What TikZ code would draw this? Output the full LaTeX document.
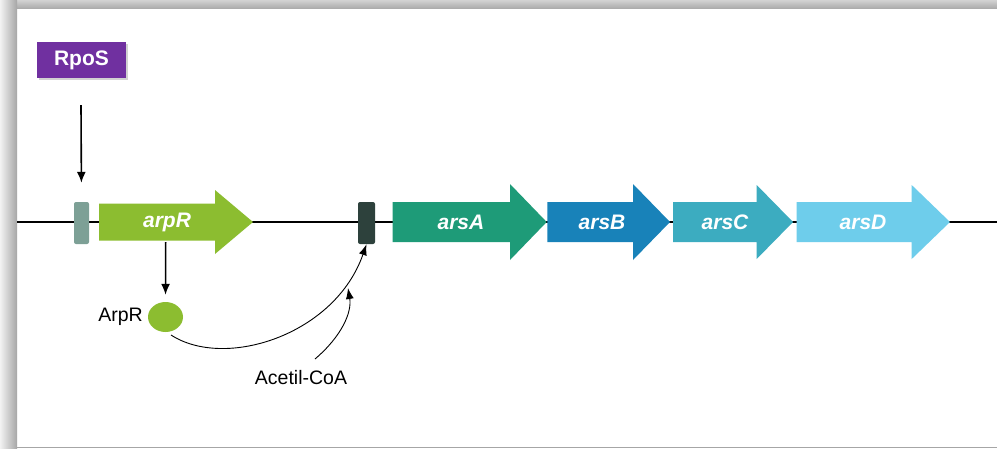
\documentclass[tikz,border=0pt]{standalone}
\usepackage{fontspec}
\setmainfont{Liberation Sans}
\usetikzlibrary{arrows.meta,shapes.geometric}
\definecolor{cArpR}{HTML}{8CBD30}
\definecolor{cArsA}{HTML}{1E9B78}
\definecolor{cArsB}{HTML}{1882B9}
\definecolor{cArsC}{HTML}{3CACC0}
\definecolor{cArsD}{HTML}{6ECDEB}
\definecolor{cProA}{HTML}{7DA096}
\definecolor{cProB}{HTML}{2D413C}
\definecolor{cRpoS}{HTML}{7030A0}
\newcommand{\genearrow}[9]{%
  \fill[#7] ({#2},{222-#5}) -- ({#3},{222-#5}) -- ({#3},{222-#6}) -- ({#4},222)
    -- ({#3},{222+#6}) -- ({#3},{222+#5}) -- ({#2},{222+#5}) -- cycle;
  \node[genelabel] (#1) at ({#9},222) {#8};}
\begin{document}
\begin{tikzpicture}[x=1pt,y=-1pt,
  genelabel/.style={font=\fontsize{21}{25}\selectfont\bfseries\itshape, text=white, inner sep=0pt},
  plainlabel/.style={font=\fontsize{19.5}{23}\selectfont, text=black, inner sep=0pt},
  promoterbox/.style={rounded corners=2pt, inner sep=0pt, minimum height=42pt},
  thickarrow/.style={line width=1.6pt, -{Latex[length=11pt,width=9pt]}},
  thinarrow/.style={line width=0.9pt, -{Latex[length=11pt,width=8pt]}}
]
\useasboundingbox (0,0) rectangle (997,448);
% frame
\fill[white] (0,0) rectangle (997,448);
\shade[top color=gray!35, bottom color=gray!65] (0,0) rectangle (997,8);
\shade[left color=gray!10, right color=gray!70] (0,0) rectangle (17,448);
\draw[gray!70, line width=1pt] (17,447.5) -- (997,447.5);

% DNA line
\coordinate (lineL) at (17,222);
\coordinate (lineR) at (997,222);
\draw[line width=2.6pt] (lineL) -- (lineR);

% promoters
\node[promoterbox, fill=cProA, minimum width=15pt] (p1) at (81.5,223) {};
\node[promoterbox, fill=cProB, minimum width=17pt] (p2) at (366.5,223) {};

% genes
\genearrow{arpR}{99}{215}{253}{18.5}{32}{cArpR}{arpR}{167}
\genearrow{arsA}{392.7}{510}{546.7}{20}{38}{cArsA}{arsA}{461}
\genearrow{arsB}{547.3}{633}{670}{20}{38}{cArsB}{arsB}{602}
\genearrow{arsC}{673}{756.7}{793}{20}{37}{cArsC}{arsC}{725}
\genearrow{arsD}{796.7}{911.7}{950}{20}{37}{cArsD}{arsD}{863}

% RpoS
\fill[gray!35] (39,44) rectangle (128,80);
\node[fill=cRpoS, minimum width=89pt, minimum height=36pt, inner sep=0pt,
      font=\fontsize{21}{25}\selectfont\bfseries, text=white] (rpos) at (81.5,60) {RpoS};

% ArpR protein
\node[ellipse, fill=cArpR, minimum width=35pt, minimum height=30pt, inner sep=0pt] (prot) at (165.5,317) {};
\node[plainlabel, anchor=east] (protlabel) at (143,317) {ArpR};

% Acetil-CoA
\node[plainlabel] (acetil) at (301,378) {Acetil-CoA};

% connectors
\coordinate (rposstart) at (81,105);
\draw[thickarrow, shorten >=19pt] (rposstart) -- (p1.north);
\coordinate (arpRstart) at (165.7,242);
\draw[thickarrow, shorten >=7pt] (arpRstart) -- (prot.north);
\coordinate (protstart) at (171,335);
\draw[thinarrow] (protstart) .. controls (225,370) and (335,335) .. (p2.south);
\coordinate (acstart) at (315,359);
\coordinate (acend) at (348,288);
\draw[thinarrow] (acstart) .. controls (342,336) and (352,312) .. (acend);
\end{tikzpicture}
\end{document}
